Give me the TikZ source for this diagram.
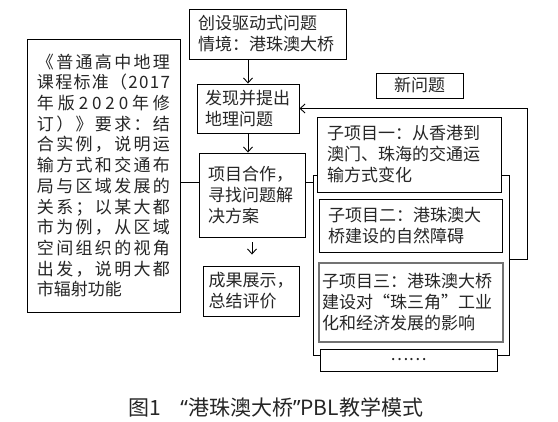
\documentclass[tikz,border=0pt]{standalone}
\usepackage{fontspec}
\setmainfont{Noto Sans CJK SC}
\newfontfamily\latinsans{Noto Sans}
\usepackage{tikz}
\usetikzlibrary{arrows.meta, positioning}

% spread one line of the standard box over the full width
\newcommand\spreadline[1]{\leavevmode\hbox to 133pt{\spreadstep#1\spreadstop}}
\def\spreadstep#1#2\spreadstop{#1\ifx\relax#2\relax\else\hfil\spreadstep#2\spreadstop\fi}

\begin{document}
\begin{tikzpicture}[
    x=1pt, y=-1pt,
    box/.style={draw, line width=0.9pt, fill=white, inner xsep=9pt, inner ysep=0pt, align=left, text=black!85, font=\fontsize{17pt}{21pt}\selectfont},
    arrow/.style={-{Straight Barb[length=5pt, width=9pt]}, line width=0.9pt},
    link/.style={line width=0.9pt},
]
    \useasboundingbox (0,0) rectangle (558,422);

    % Curriculum standard
    \node[box, inner xsep=10pt, text width=133pt, minimum height=273pt, font=\fontsize{17pt}{20.7pt}\selectfont] (standard) at (103.5,175.5) {%
        \spreadline{《普通高中地理}\\
        \spreadline{课程标准（2017}\\
        \spreadline{年版2020年修}\\
        \spreadline{订）》要求：结}\\
        \spreadline{合实例，说明运}\\
        \spreadline{输方式和交通布}\\
        \spreadline{局与区域发展的}\\
        \spreadline{关系；以某大都}\\
        \spreadline{市为例，从区域}\\
        \spreadline{空间组织的视角}\\
        \spreadline{出发，说明大都}\\
        市辐射功能};

    % Main steps
    \node[box, text width=139pt, minimum height=50pt] (scene) at (267.5,34) {创设驱动式问题\\情境：港珠澳大桥};
    \node[box, inner xsep=8pt, text width=86pt, minimum height=49pt] (find) at (248,108.5) {发现并提出\\地理问题};
    \node[box, text width=88pt, minimum height=84pt] (coop) at (252,195) {项目合作，\\寻找问题解\\决方案};
    \node[box, inner xsep=5.5pt, text width=85pt, minimum height=50pt] (show) at (251,291) {成果展示，\\总结评价};

    % Sub-projects
    \node[box, align=center, minimum width=87pt, minimum height=25pt] (newq) at (419.5,85.5) {新问题};
    \node[draw, line width=0.9pt, inner sep=0pt, minimum width=196pt, minimum height=180pt] (frame) at (411,265) {};
    \node[box, inner xsep=10pt, text width=164pt, minimum height=75pt] (sub1) at (409,154.5) {子项目一：从香港到\\澳门、珠海的交通运\\输方式变化};
    \node[box, text width=165pt, minimum height=53pt] (sub2) at (410.5,225.5) {子项目二：港珠澳大\\桥建设的自然障碍};
    \node[box, draw=black!55, line width=1.2pt, inner xsep=3pt, text width=178pt, minimum height=79pt] (sub3) at (411,302.5) {子项目三：港珠澳大桥\\建设对“珠三角”工业\\化和经济发展的影响};
    \node[box, align=center, minimum width=177pt, minimum height=22pt] (more) at (408.5,360) {……};

    % Caption
    \node[font=\fontsize{21pt}{21pt}\selectfont, text=black!85] (caption) at (276,407) {图1\hspace{0.9em}{\latinsans “}港珠澳大桥{\latinsans ”}PBL教学模式};

    % Arrows
    \draw[arrow] (find.north |- scene.south) -- (find.north);
    \draw[arrow] (find.south) -- (find.south |- coop.north);
    \draw[arrow, shorten <=5pt, shorten >=11pt] (coop.south) -- (coop.south |- show.north);
    \draw[link] ([yshift=13pt]coop.west) -- ([yshift=13pt]coop.west -| standard.east);
    \draw[link] ([yshift=13pt]coop.east) -- ([yshift=13pt]coop.east -| frame.west);
    \draw[arrow] ([yshift=6pt]frame.east) -- ++(18,0) |- (find.east);
\end{tikzpicture}
\end{document}
